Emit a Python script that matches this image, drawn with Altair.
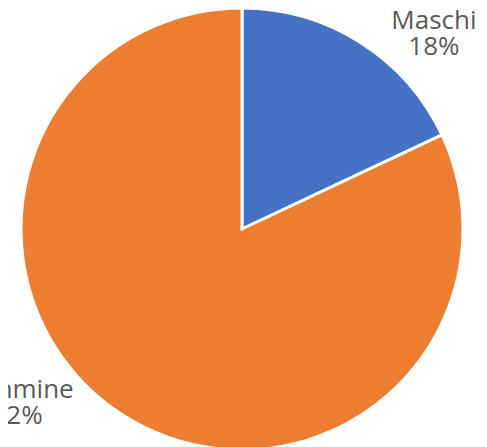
import altair as alt
import pandas as pd

categories = ["Maschi", "Femmine"]
values = [18, 82]
colors = ["#4472C4", "#ED7D31"]

df = pd.DataFrame({
    "cat": categories,
    "val": values,
    "ord": list(range(len(categories))),
    "label": [f"{c}\n{v}%" for c, v in zip(categories, values)],
})

cx, cy, R = 234, 221, 221

base = alt.Chart(df).encode(
    theta=alt.Theta("val:Q", stack=True),
    order=alt.Order("ord:Q"),
)

pie = base.mark_arc(outerRadius=R, stroke="white", strokeWidth=3).encode(
    color=alt.Color("cat:N", scale=alt.Scale(domain=categories, range=colors), legend=None),
    x=alt.value(cx), y=alt.value(cy),
)

txt_style = dict(radius=250, font="Open Sans", fontSize=26, color="#595959",
                 lineBreak="\n", lineHeight=26, align="center", baseline="middle")

lab_m = base.transform_calculate(
    t="datum.cat == 'Maschi' ? datum.label : ''"
).mark_text(dx=58, dy=3, **txt_style).encode(
    text="t:N", x=alt.value(cx), y=alt.value(cy)
)

lab_f = base.transform_calculate(
    t="datum.cat == 'Femmine' ? datum.label : ''"
).mark_text(dx=-91, dy=-50, **txt_style).encode(
    text="t:N", x=alt.value(cx), y=alt.value(cy)
)

chart = alt.layer(pie, lab_m, lab_f).properties(
    width=471, height=439, padding=0, autosize=alt.AutoSizeParams(type="none")
).configure_view(stroke=None)

chart.save("out.html", embed_options={"renderer": "svg", "actions": False})
